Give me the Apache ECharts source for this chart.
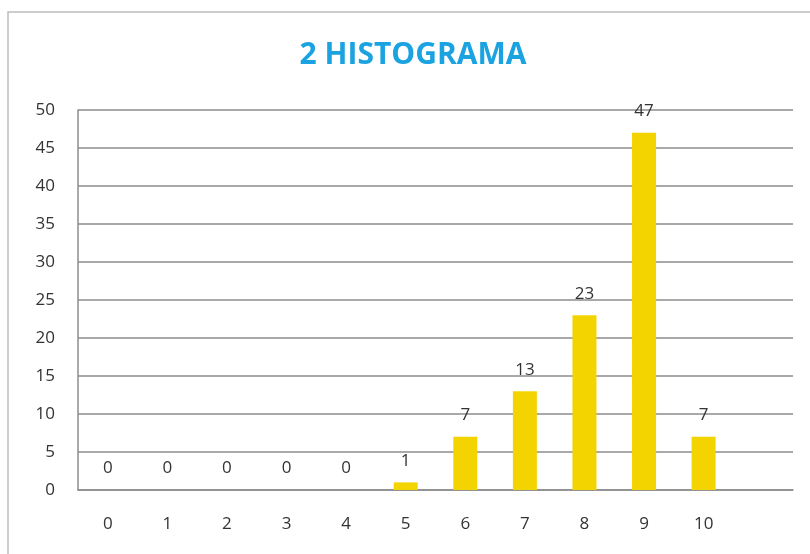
<!DOCTYPE html>
<html>
<head>
<meta charset="utf-8">
<script src="https://cdn.jsdelivr.net/npm/echarts@6/dist/echarts.min.js"></script>
<style>
  html, body { margin: 0; padding: 0; background: #fff; }
  #chart { width: 810px; height: 554px; }
</style>
</head>
<body>
<div id="chart"></div>
<script>
// categorias (la ultima vacia, como en el original)
const categories = ['0', '1', '2', '3', '4', '5', '6', '7', '8', '9', '10', '']
const counts = [0, 0, 0, 0, 0, 1, 7, 13, 23, 47, 7, null]
const yTicks = { min: 0, max: 50, interval: 5 }

const chart = echarts.init(document.getElementById('chart'))
const labelColor = '#333333'
const font = '"Open Sans", "DejaVu Sans", sans-serif'

chart.setOption({
  animation: false,
  title: {
    text: '2 HISTOGRAMA',
    left: 408,
    textAlign: 'center',
    top: 35,
    textStyle: {
      color: '#1AA3E0',
      fontSize: 30,
      fontWeight: 'bold',
      fontFamily: font
    }
  },
  graphic: [{
    type: 'rect',
    shape: { x: 8, y: 12, width: 820, height: 560 },
    style: { fill: 'none', stroke: '#bdbdbd', lineWidth: 1.5 },
    silent: true
  }],
  grid: {
    left: 78,
    right: 17,
    top: 110,
    bottom: 64
  },
  xAxis: {
    type: 'category',
    data: categories,
    axisTick: { show: false },
    axisLine: { lineStyle: { color: '#8c8c8c', width: 1.5 } },
    axisLabel: {
      color: labelColor,
      fontSize: 17,
      fontFamily: font,
      margin: 26
    }
  },
  yAxis: {
    type: 'value',
    min: yTicks.min,
    max: yTicks.max,
    interval: yTicks.interval,
    axisLine: { show: true, lineStyle: { color: '#8c8c8c', width: 1.5 } },
    axisTick: { show: false },
    axisLabel: {
      color: labelColor,
      fontSize: 17,
      fontFamily: font,
      margin: 23
    },
    splitLine: { lineStyle: { color: '#8c8c8c', width: 1.5 } }
  },
  series: [{
    type: 'bar',
    data: counts,
    barWidth: 24,
    itemStyle: { color: '#F4D400' },
    label: {
      show: true,
      position: 'top',
      distance: 13,
      color: labelColor,
      fontSize: 17,
      fontFamily: font
    }
  }]
})
</script>
</body>
</html>
